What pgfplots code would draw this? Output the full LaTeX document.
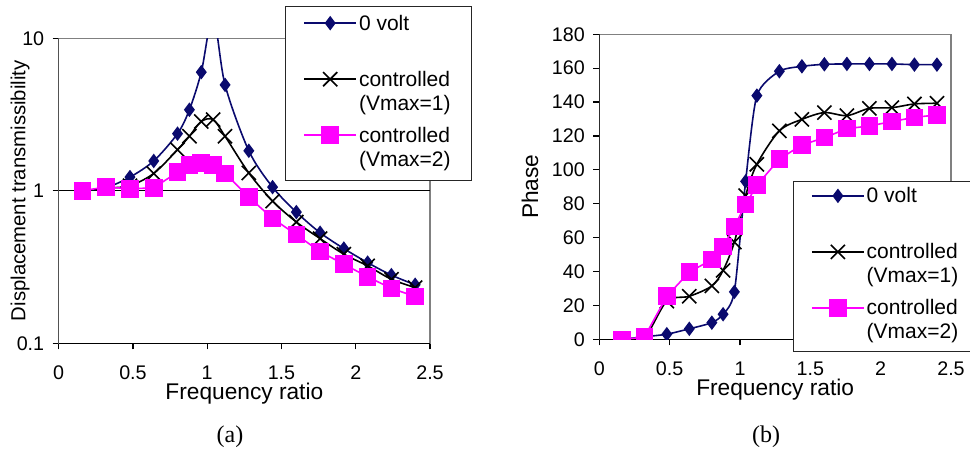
\documentclass[border=0pt]{standalone}
\usepackage{pgfplots}
\pgfplotsset{compat=1.18}
\usepackage{fontspec}
\setmainfont{Liberation Sans}
\newfontfamily\capfont{Liberation Serif}
\definecolor{navy}{RGB}{10,10,110}
\definecolor{pinkm}{RGB}{255,0,255}
\definecolor{framegray}{RGB}{128,128,128}
\newcommand{\twoline}[2]{\begin{tabular}[t]{@{}l@{}}#1\\#2\end{tabular}}
\newcommand{\twolineR}[2]{\begin{tabular}[t]{@{}l@{\hspace{12pt}}}#1\\#2\end{tabular}}

\pgfplotstableread{
x      v0      v1      v2
0.16   1.00    1.00    1.00
0.32   1.05    1.04    1.06
0.48   1.23    1.08    1.03
0.64   1.57    1.30    1.046
0.80   2.37    1.86    1.324
0.88   3.40    2.28    1.47
0.96   6.00    2.85    1.52
1.04   14.0    2.93    1.47
1.12   4.95    2.28    1.30
1.28   1.83    1.31    0.909
1.44   1.057   0.856   0.659
1.60   0.725   0.624   0.516
1.76   0.531   0.486   0.399
1.92   0.418   0.384   0.330
2.08   0.338   0.322   0.273
2.24   0.280   0.263   0.229
2.40   0.242   0.232   0.203
}\transdata

\pgfplotstableread{
x      v0      v1      v2
0.16   0.0     0.0     0.0
0.32   1.5     1.0     1.2
0.48   3.0     22.5    25.4
0.64   6.2     25.4    39.7
0.80   9.8     31.5    47.0
0.88   14.8    40.7    54.7
0.96   28.0    57.4    66.5
1.04   93.2    84.8    79.6
1.12   143.8   103.3   90.9
1.28   158.2   123.0   106.4
1.44   161.1   129.8   114.7
1.60   162.3   133.8   119.0
1.76   162.5   132.0   124.3
1.92   162.5   136.3   125.9
2.08   162.5   136.7   128.5
2.24   162.1   138.9   131.0
2.40   162.1   139.3   132.4
}\phasedata

\pgfplotsset{
  refstyle/.style={
    scale only axis,
    axis line style={framegray, line width=1.3pt},
    tick style={black, line width=1.2pt},
    tick align=outside,
    major tick length=6pt,
    xtick pos=bottom, ytick pos=left,
    xmin=0, xmax=2.5,
    xtick={0,0.5,1,1.5,2,2.5},
    /pgf/number format/assume math mode=true,
    ticklabel style={font=\fontsize{19.7}{24}\selectfont},
    xticklabel style={yshift=-13pt},
    yticklabel style={xshift=-5pt},
    label style={font=\fontsize{22.7}{27}\selectfont},
    xlabel={Frequency ratio},
    xlabel style={at={(axis description cs:0.5,0)}, anchor=base, yshift=-56.5pt},
    clip marker paths=true,
    legend style={anchor=north west, draw=black!85, line width=0.8pt, fill=white,
      font=\fontsize{21}{24}\selectfont, inner xsep=18pt, inner ysep=4pt,
      row sep=2pt, column sep=-1pt,
      cells={anchor=base west},
      nodes={inner sep=3pt, text depth=}},
    legend image code/.code={%
      \draw[mark repeat=2,mark phase=2,#1] plot coordinates {(0pt,7pt) (26pt,7pt) (52pt,7pt)};},
  },
  s0/.style={navy, line width=1.6pt, mark=diamond*, mark size=6pt,
     mark options={fill=navy, solid}},
  s1/.style={black, line width=1.6pt, mark=x, mark size=10pt,
     mark options={line width=1.6pt}},
  s2/.style={pinkm, line width=1.6pt, mark=square*, mark size=8pt,
     mark options={fill=pinkm}},
}

\begin{document}
\begin{tikzpicture}
\useasboundingbox (0pt,0pt) rectangle (970pt,-457pt);
\clip (0pt,0pt) rectangle (970pt,-457pt);

% (a) displacement transmissibility
\begin{axis}[refstyle,
  at={(58.7pt,-343.3pt)}, anchor=south west,
  width=371.3pt, height=305pt,
  ymode=log, ymin=0.1, ymax=10,
  ytick={0.1,1,10}, yticklabels={0.1,1,10},
  yminorticks=false,
  ylabel={Displacement transmissibility},
  ylabel style={at={(axis description cs:-0.1042,0.5)}, anchor=center,
     font=\fontsize{20.3}{24}\selectfont},
  legend style={at={(axis description cs:0.6095,1.106)}},
]
\draw[black, line width=0.8pt] (axis cs:0,1) -- (axis cs:2.5,1);
\draw[black, line width=1.3pt] (rel axis cs:0,1) -- (rel axis cs:0,0) -- (rel axis cs:1,0);
\addplot[s0, smooth, tension=0.5] table[x=x,y=v0] {\transdata};
\addlegendentry{\twoline{0 volt}{\mbox{}}}
\addplot[s1, smooth, tension=0.5] table[x=x,y=v1] {\transdata};
\addlegendentry{\twoline{controlled}{(Vmax=1)}}
\addplot[s2] table[x=x,y=v2] {\transdata};
\addlegendentry{\twoline{controlled}{(Vmax=2)}}
\end{axis}

% (b) phase
\begin{axis}[refstyle,
  at={(599.3pt,-339.3pt)}, anchor=south west,
  width=351.7pt, height=305pt,
  ymin=0, ymax=180,
  ytick={0,20,40,60,80,100,120,140,160,180},
  ylabel={Phase},
  ylabel style={at={(axis description cs:-0.197,0.5)}, anchor=center},
  legend style={at={(axis description cs:0.55,0.52)}, inner ysep=2pt},
]
\draw[black, line width=1.3pt] (rel axis cs:0,1) -- (rel axis cs:0,0) -- (rel axis cs:1,0);
\addplot[s0, smooth, tension=0.4] table[x=x,y=v0] {\phasedata};
\addlegendentry{\twolineR{0 volt}{\mbox{}}}
\addplot[s1, smooth, tension=0.5] table[x=x,y=v1] {\phasedata};
\addlegendentry{\twolineR{controlled}{(Vmax=1)}}
\addplot[s2] table[x=x,y=v2] {\phasedata};
\addlegendentry{\twolineR{controlled}{(Vmax=2)}}
\end{axis}

\node[font=\capfont\fontsize{24}{28}\selectfont] at (230pt,-437pt) {(a)};
\node[font=\capfont\fontsize{24}{28}\selectfont] at (766pt,-437pt) {(b)};
\end{tikzpicture}
\end{document}
